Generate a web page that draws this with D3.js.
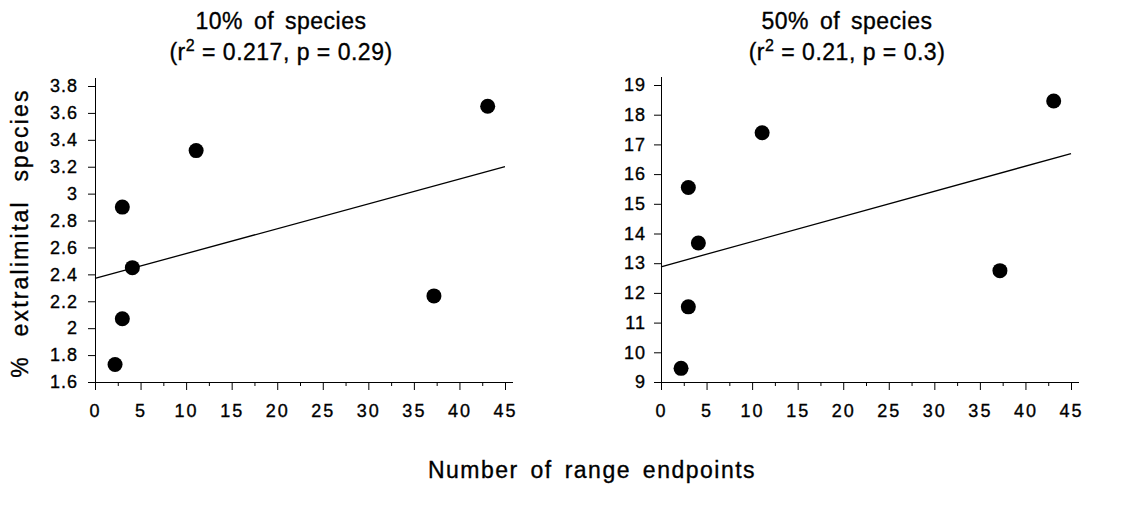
<!DOCTYPE html>
<html>
<head>
<meta charset="utf-8">
<script src="https://cdn.jsdelivr.net/npm/d3@7"></script>
<style>
    body { margin: 0; background: #fff; }
    svg { display: block; }
    text { font-family: "Liberation Sans", Arial, sans-serif; fill: #000; stroke: #000; stroke-width: 0.35px; }
</style>
</head>
<body>
<svg id="chart" width="1137" height="506"></svg>
<script>
// number of range endpoints (same sites in both panels)
let endpoints = [2.2, 3.0, 3.0, 4.1, 11.1, 37.2, 43.1];
// % extralimital species
let pct10 = [1.73, 2.07, 2.90, 2.45, 3.32, 2.24, 3.65];
let pct50 = [9.46, 11.53, 15.55, 13.68, 17.39, 12.75, 18.46];
// fitted line, value at x = 0 and x = 45
let fit10 = [2.37, 3.20];
let fit50 = [12.88, 16.69];

let xTicks = [0, 5, 10, 15, 20, 25, 30, 35, 40, 45];
let xMinor = [2.5, 7.5, 12.5, 17.5, 22.5, 27.5, 32.5, 37.5, 42.5];
let yTicks10 = [1.6, 1.8, 2, 2.2, 2.4, 2.6, 2.8, 3, 3.2, 3.4, 3.6, 3.8];
let yTicks50 = [9, 10, 11, 12, 13, 14, 15, 16, 17, 18, 19];

let titles10 = ["10% of species", "0.217", "0.29"];
let titles50 = ["50% of species", "0.21", "0.3"];

let svg = d3.select("#chart");

function renderPanel(opt) {
    let xScale = d3.scaleLinear().domain([0, 45]).range([opt.left, opt.left + 410]);
    let yScale = d3.scaleLinear().domain(opt.yDomain).range([382, opt.top]);

    let g = svg.append("g");

    // x axis, major + minor ticks
    let xa = g.append("g")
        .attr("transform", "translate(0,382)")
        .call(d3.axisBottom(xScale).tickValues(xTicks).tickSize(8).tickPadding(14).tickSizeOuter(0));
    xa.selectAll("text")
        .attr("font-size", "18px")
        .style("letter-spacing", "2px");
    xa.select(".domain").remove();

    let xm = g.append("g")
        .attr("transform", "translate(0,382)")
        .call(d3.axisBottom(xScale).tickValues(xMinor).tickSize(4).tickFormat(""));
    xm.select(".domain").remove();

    g.append("line")
        .attr("x1", xScale(0)).attr("x2", xScale(45) + 8)
        .attr("y1", 382.5).attr("y2", 382.5)
        .attr("stroke", "#000");

    // y axis
    let ya = g.append("g")
        .attr("transform", "translate(" + opt.left + ",0)")
        .call(d3.axisLeft(yScale).tickValues(opt.yTicks).tickSize(7).tickPadding(opt.pad)
            .tickFormat(d => String(d)));
    ya.selectAll("text")
        .attr("font-size", "18px")
        .style("letter-spacing", "1px");
    ya.select(".domain").remove();

    g.append("line")
        .attr("x1", opt.left + 0.5).attr("x2", opt.left + 0.5)
        .attr("y1", 382).attr("y2", opt.top - 8)
        .attr("stroke", "#000");

    // fitted line
    g.append("line")
        .attr("x1", xScale(0)).attr("y1", yScale(opt.fit[0]))
        .attr("x2", xScale(45)).attr("y2", yScale(opt.fit[1]))
        .attr("stroke", "#000")
        .attr("stroke-width", 1.3);

    // points
    g.selectAll(".dot")
        .data(endpoints)
        .enter()
        .append("circle")
        .attr("cx", d => xScale(d))
        .attr("cy", (d, i) => yScale(opt.values[i]))
        .attr("r", 7.5)
        .attr("fill", "#000");

    // title
    let tx = opt.left + 186;
    g.append("text")
        .attr("x", tx).attr("y", 29)
        .attr("font-size", "23px")
        .style("letter-spacing", "0.5px")
        .style("word-spacing", "4px")
        .style("text-anchor", "middle")
        .text(opt.title[0]);

    let t2 = g.append("text")
        .attr("x", tx).attr("y", 60)
        .attr("font-size", "23px")
        .style("letter-spacing", "0.5px")
        .style("text-anchor", "middle");
    t2.append("tspan").text("(r");
    t2.append("tspan").attr("dy", -9).attr("font-size", "16px").text("2");
    t2.append("tspan").attr("dy", 9).text(" = " + opt.title[1] + ",  p = " + opt.title[2] + ")");
}

renderPanel({ left: 95, top: 86, yDomain: [1.6, 3.8], yTicks: yTicks10, pad: 10,
    values: pct10, fit: fit10, title: titles10 });
renderPanel({ left: 661, top: 85, yDomain: [9, 19], yTicks: yTicks50, pad: 8,
    values: pct50, fit: fit50, title: titles50 });

// y axis label
svg.append("text")
    .attr("transform", "translate(28,233) rotate(-90)")
    .attr("font-size", "23px")
    .style("letter-spacing", "2.2px")
    .style("word-spacing", "10px")
    .style("text-anchor", "middle")
    .text("% extralimital species");

// x axis label
svg.append("text")
    .attr("x", 592).attr("y", 478)
    .attr("font-size", "23px")
    .style("letter-spacing", "1.5px")
    .style("word-spacing", "4px")
    .style("text-anchor", "middle")
    .text("Number of range endpoints");
</script>
</body>
</html>
